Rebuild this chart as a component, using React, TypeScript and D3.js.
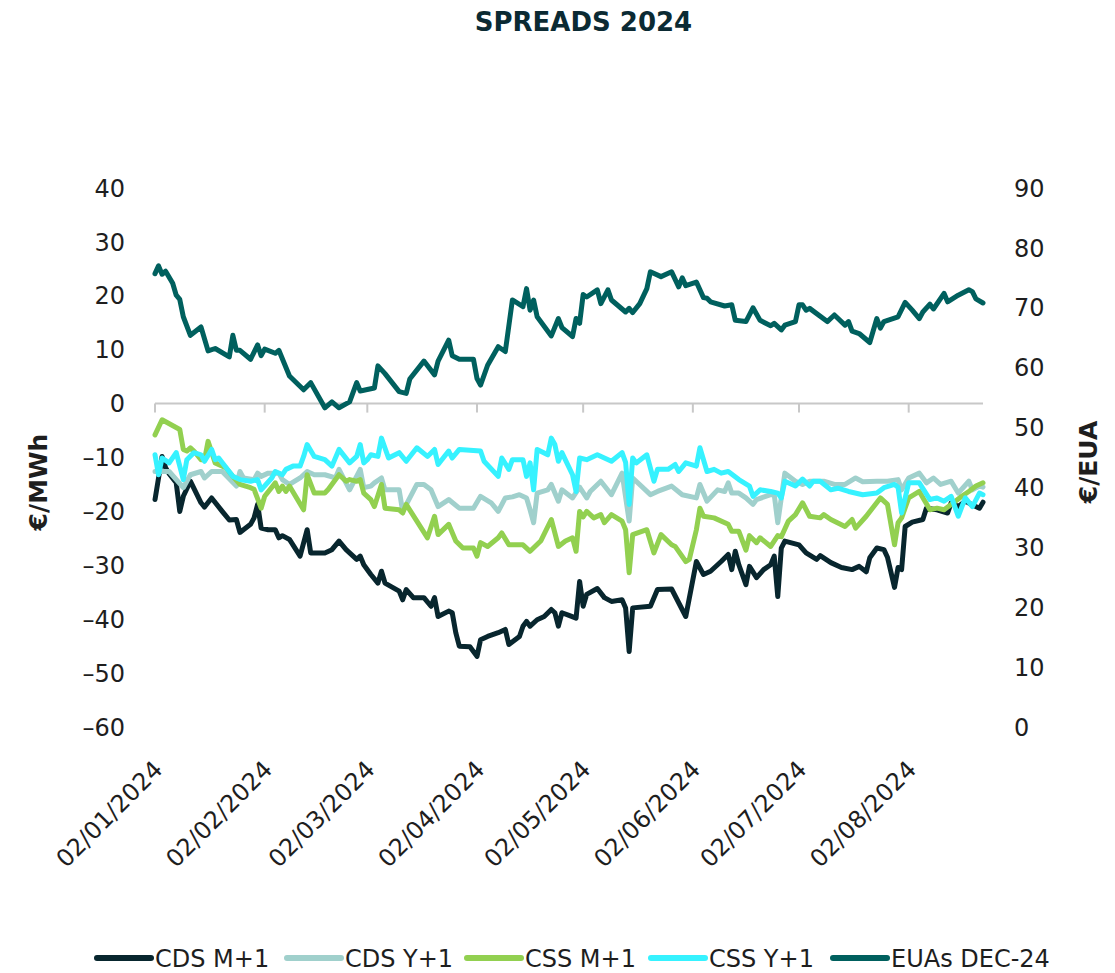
import React from "react";
import * as d3 from "d3";

const W = 1115;
const H = 973;
const FONT = "'DejaVu Sans', 'Open Sans', sans-serif";

// dates are MM-DD in 2024, values in €/MWh (spreads) and €/EUA (EUAs)
const cdsM1: [string, number][] = [
  ["01-02",-17.8],["01-04",-9.8],["01-05",-11.9],["01-06",-13.0],["01-08",-14.7],["01-09",-20.0],["01-10",-17.2],["01-12",-14.4],["01-15",-18.4],["01-16",-19.2],["01-18",-17.5],["01-21",-20.0],["01-23",-21.6],["01-25",-21.5],["01-26",-23.9],["01-29",-22.4],["01-30",-21.2],["01-31",-18.7],["02-01",-23.1],["02-03",-23.4],["02-05",-23.4],["02-06",-24.9],["02-07",-24.5],["02-09",-25.2],["02-12",-28.3],["02-14",-23.4],["02-15",-27.7],["02-19",-27.7],["02-21",-27.1],["02-23",-25.5],["02-25",-27.1],["02-28",-28.9],["02-29",-28.3],["03-01",-29.9],["03-03",-31.7],["03-05",-33.3],["03-06",-31.1],["03-07",-33.3],["03-11",-34.8],["03-12",-36.4],["03-13",-34.5],["03-15",-36.0],["03-18",-36.0],["03-20",-37.6],["03-21",-36.0],["03-22",-39.5],["03-25",-38.5],["03-26",-38.8],["03-27",-42.5],["03-28",-45.0],["03-31",-45.1],["04-02",-46.9],["04-03",-43.8],["04-05",-43.2],["04-08",-42.5],["04-10",-41.9],["04-11",-44.7],["04-14",-43.2],["04-15",-41.3],["04-16",-40.4],["04-17",-41.3],["04-19",-40.1],["04-21",-39.5],["04-23",-38.2],["04-24",-38.8],["04-25",-41.3],["04-26",-38.8],["04-28",-39.3],["04-30",-39.8],["05-01",-33.0],["05-02",-37.6],["05-03",-35.4],["05-06",-34.3],["05-08",-36.0],["05-10",-36.7],["05-13",-36.4],["05-14",-37.9],["05-15",-46.0],["05-16",-37.9],["05-21",-37.6],["05-23",-34.5],["05-27",-34.4],["05-31",-39.5],["06-03",-29.3],["06-05",-31.7],["06-07",-31.1],["06-10",-29.3],["06-12",-28.0],["06-13",-30.8],["06-14",-27.4],["06-15",-29.9],["06-17",-33.6],["06-18",-30.2],["06-20",-32.3],["06-22",-30.8],["06-24",-29.9],["06-25",-28.3],["06-26",-35.8],["06-27",-26.8],["06-28",-25.5],["07-02",-26.2],["07-04",-27.7],["07-07",-28.9],["07-08",-28.2],["07-11",-29.5],["07-14",-30.4],["07-17",-30.8],["07-19",-30.2],["07-21",-31.2],["07-22",-28.6],["07-24",-26.8],["07-26",-27.1],["07-27",-28.5],["07-29",-34.1],["07-30",-30.4],["07-31",-30.8],["08-01",-22.8],["08-03",-22.0],["08-06",-21.5],["08-07",-19.4],["08-10",-19.7],["08-13",-20.3],["08-14",-18.4],["08-16",-19.1],["08-18",-18.1],["08-20",-18.8],["08-22",-19.4],["08-23",-18.3],
];

const cdsY1: [string, number][] = [
  ["01-02",-12.6],["01-03",-12.6],["01-06",-12.6],["01-10",-15.6],["01-12",-13.2],["01-15",-12.6],["01-16",-13.8],["01-18",-12.6],["01-21",-12.6],["01-25",-15.3],["01-26",-12.6],["01-27",-13.8],["01-30",-14.1],["01-31",-12.9],["02-01",-13.5],["02-03",-12.9],["02-06",-12.9],["02-07",-14.1],["02-09",-15.0],["02-12",-13.8],["02-14",-12.6],["02-16",-13.2],["02-19",-13.2],["02-22",-13.8],["02-23",-12.2],["02-26",-16.0],["02-29",-12.2],["03-01",-15.6],["03-03",-15.3],["03-04",-14.7],["03-06",-13.8],["03-07",-16.0],["03-11",-16.0],["03-12",-20.0],["03-16",-15.0],["03-18",-15.0],["03-20",-16.0],["03-22",-19.1],["03-25",-17.8],["03-28",-19.4],["04-01",-19.4],["04-03",-17.2],["04-06",-18.4],["04-08",-20.0],["04-10",-17.5],["04-12",-17.3],["04-14",-16.9],["04-16",-17.5],["04-17",-19.7],["04-18",-22.1],["04-19",-16.6],["04-22",-16.0],["04-23",-15.0],["04-25",-18.1],["04-26",-16.0],["04-29",-17.5],["05-01",-15.5],["05-03",-17.5],["05-04",-16.3],["05-07",-14.4],["05-10",-16.9],["05-13",-12.9],["05-15",-21.8],["05-16",-13.8],["05-21",-16.9],["05-23",-16.3],["05-27",-15.3],["05-30",-16.9],["06-03",-17.5],["06-04",-15.0],["06-06",-18.1],["06-09",-16.0],["06-11",-16.3],["06-12",-14.7],["06-13",-16.6],["06-15",-16.6],["06-17",-17.5],["06-19",-18.7],["06-20",-17.8],["06-24",-16.9],["06-25",-16.9],["06-26",-22.1],["06-28",-12.9],["07-01",-14.4],["07-03",-15.0],["07-05",-14.4],["07-09",-14.4],["07-12",-15.0],["07-15",-15.0],["07-18",-13.8],["07-20",-14.5],["07-24",-14.4],["07-27",-14.4],["07-30",-14.1],["07-31",-16.0],["08-02",-13.8],["08-05",-12.9],["08-07",-14.7],["08-09",-13.8],["08-11",-15.0],["08-14",-14.4],["08-16",-16.6],["08-19",-14.4],["08-20",-16.0],["08-22",-15.3],["08-23",-15.5],
];

const cssM1: [string, number][] = [
  ["01-02",-5.8],["01-04",-3.0],["01-09",-4.8],["01-10",-8.5],["01-11",-8.8],["01-12",-8.2],["01-13",-8.8],["01-15",-10.4],["01-16",-10.4],["01-17",-7.0],["01-19",-11.0],["01-22",-11.9],["01-24",-13.5],["01-26",-15.0],["01-29",-15.6],["01-30",-15.9],["02-01",-19.4],["02-02",-17.2],["02-05",-14.7],["02-06",-16.3],["02-07",-15.3],["02-08",-16.3],["02-09",-15.3],["02-13",-19.7],["02-14",-13.2],["02-16",-16.6],["02-19",-16.6],["02-20",-15.9],["02-23",-13.2],["02-25",-14.4],["02-26",-14.1],["02-28",-14.4],["02-29",-14.1],["03-01",-16.6],["03-03",-17.8],["03-04",-19.1],["03-06",-15.0],["03-07",-19.4],["03-11",-19.7],["03-12",-20.3],["03-13",-18.7],["03-16",-21.8],["03-19",-24.9],["03-21",-20.9],["03-22",-24.3],["03-25",-22.4],["03-27",-25.5],["03-29",-26.8],["04-01",-26.8],["04-02",-28.3],["04-03",-25.8],["04-05",-26.5],["04-08",-24.9],["04-09",-24.0],["04-11",-26.2],["04-15",-26.2],["04-17",-27.4],["04-20",-25.5],["04-23",-21.5],["04-25",-26.5],["04-27",-25.5],["04-29",-24.9],["04-30",-27.4],["05-01",-20.0],["05-02",-21.0],["05-03",-20.0],["05-05",-21.2],["05-07",-20.6],["05-08",-22.1],["05-10",-20.6],["05-13",-21.8],["05-14",-23.4],["05-15",-31.4],["05-16",-24.3],["05-20",-23.4],["05-22",-27.7],["05-24",-24.3],["05-27",-26.2],["05-28",-26.5],["05-31",-29.3],["06-01",-28.9],["06-03",-23.4],["06-04",-19.4],["06-05",-20.9],["06-08",-21.2],["06-12",-22.4],["06-13",-23.7],["06-15",-23.7],["06-17",-27.2],["06-18",-24.5],["06-20",-25.8],["06-21",-24.9],["06-24",-26.5],["06-26",-24.5],["06-27",-24.7],["06-29",-21.8],["07-01",-20.6],["07-03",-18.4],["07-05",-20.9],["07-08",-21.2],["07-09",-20.6],["07-11",-21.5],["07-15",-22.8],["07-17",-21.5],["07-18",-23.1],["07-21",-20.9],["07-25",-17.5],["07-27",-18.7],["07-29",-26.2],["07-30",-22.1],["07-31",-21.2],["08-02",-17.5],["08-05",-16.3],["08-08",-19.7],["08-10",-19.4],["08-12",-19.7],["08-14",-18.7],["08-17",-17.2],["08-19",-16.3],["08-21",-15.3],["08-23",-14.7],
];

const cssY1: [string, number][] = [
  ["01-02",-9.5],["01-03",-13.2],["01-04",-10.1],["01-06",-11.0],["01-08",-9.1],["01-10",-14.1],["01-11",-10.4],["01-13",-9.1],["01-15",-9.5],["01-16",-10.7],["01-18",-8.5],["01-19",-10.4],["01-20",-10.1],["01-24",-13.5],["01-26",-14.1],["01-29",-14.4],["01-31",-14.1],["02-01",-16.0],["02-04",-13.8],["02-05",-12.6],["02-07",-13.2],["02-08",-12.2],["02-10",-11.6],["02-12",-11.6],["02-13",-9.8],["02-14",-7.6],["02-16",-9.8],["02-19",-10.4],["02-21",-11.6],["02-23",-8.5],["02-26",-11.0],["02-28",-9.8],["02-29",-7.6],["03-01",-11.0],["03-02",-10.4],["03-03",-9.5],["03-05",-9.8],["03-06",-6.4],["03-08",-10.1],["03-11",-9.1],["03-13",-10.7],["03-16",-8.2],["03-19",-9.8],["03-21",-8.5],["03-22",-11.3],["03-25",-8.8],["03-26",-10.1],["03-28",-8.5],["04-03",-8.8],["04-04",-10.7],["04-08",-13.5],["04-09",-10.1],["04-11",-12.2],["04-12",-10.4],["04-15",-10.4],["04-16",-13.5],["04-17",-11.0],["04-18",-16.0],["04-19",-8.5],["04-22",-9.5],["04-23",-6.4],["04-24",-7.6],["04-25",-10.7],["04-26",-9.1],["04-29",-13.2],["04-30",-16.3],["05-01",-10.1],["05-03",-10.4],["05-06",-9.5],["05-10",-10.7],["05-13",-9.1],["05-14",-10.9],["05-15",-18.7],["05-16",-10.1],["05-17",-11.0],["05-20",-9.5],["05-22",-14.4],["05-23",-12.2],["05-26",-12.2],["05-28",-11.3],["05-29",-12.6],["05-31",-11.0],["06-03",-11.6],["06-04",-8.2],["06-06",-12.6],["06-08",-12.2],["06-10",-12.9],["06-12",-12.6],["06-15",-14.1],["06-18",-15.3],["06-19",-17.2],["06-21",-16.0],["06-24",-16.3],["06-26",-16.6],["06-27",-17.5],["06-28",-14.4],["07-01",-15.3],["07-03",-14.0],["07-05",-15.3],["07-06",-14.4],["07-08",-14.4],["07-11",-16.0],["07-13",-15.7],["07-16",-16.3],["07-20",-16.9],["07-24",-16.6],["07-26",-15.6],["07-29",-15.0],["07-30",-15.5],["07-31",-20.3],["08-02",-14.7],["08-05",-14.7],["08-08",-17.8],["08-10",-17.5],["08-12",-18.1],["08-14",-17.2],["08-16",-20.9],["08-18",-17.5],["08-20",-19.1],["08-22",-16.6],["08-23",-16.9],
];

const euaDec24: [string, number][] = [
  ["01-02",75.7],["01-03",77.0],["01-04",75.6],["01-05",76.1],["01-07",74.1],["01-08",72.1],["01-09",71.4],["01-10",68.5],["01-12",65.4],["01-15",66.8],["01-17",62.8],["01-19",63.2],["01-23",61.8],["01-24",65.4],["01-25",62.9],["01-26",62.9],["01-29",61.4],["01-31",63.8],["02-01",62.0],["02-02",63.1],["02-05",62.4],["02-06",62.9],["02-09",58.6],["02-13",56.3],["02-15",57.5],["02-19",53.3],["02-21",54.3],["02-23",53.3],["02-26",54.3],["02-28",57.5],["02-29",56.1],["03-04",56.6],["03-05",60.3],["03-07",59.0],["03-11",56.0],["03-13",55.7],["03-14",58.1],["03-18",61.1],["03-21",58.8],["03-22",61.1],["03-25",64.6],["03-26",62.0],["03-28",61.4],["04-01",61.4],["04-02",58.2],["04-03",57.1],["04-05",60.4],["04-08",63.5],["04-10",62.7],["04-12",71.3],["04-15",70.2],["04-16",73.2],["04-17",69.6],["04-18",71.3],["04-19",68.5],["04-23",65.3],["04-25",68.2],["04-26",66.7],["04-29",65.2],["04-30",68.2],["05-01",67.4],["05-02",72.2],["05-03",71.8],["05-06",73.0],["05-07",70.7],["05-09",73.0],["05-10",71.3],["05-14",69.3],["05-15",69.9],["05-16",69.2],["05-18",70.7],["05-20",73.2],["05-21",76.0],["05-24",75.2],["05-27",76.0],["05-29",73.5],["05-30",75.0],["05-31",73.7],["06-03",74.3],["06-05",71.7],["06-06",71.6],["06-07",71.0],["06-11",70.3],["06-13",70.5],["06-14",67.9],["06-17",67.7],["06-19",70.0],["06-21",67.9],["06-24",67.0],["06-25",67.4],["06-27",66.3],["06-28",67.1],["07-01",67.7],["07-02",70.5],["07-03",70.5],["07-04",69.6],["07-05",69.9],["07-10",67.7],["07-12",68.8],["07-15",67.1],["07-16",67.7],["07-17",66.1],["07-19",65.7],["07-22",64.2],["07-24",68.2],["07-25",66.6],["07-26",67.7],["07-30",68.5],["08-01",70.9],["08-03",69.6],["08-05",68.2],["08-06",69.3],["08-08",70.6],["08-09",69.8],["08-12",72.4],["08-13",71.0],["08-16",72.1],["08-19",73.0],["08-20",72.7],["08-21",71.5],["08-23",70.8],
];

const seriesNames = ["CDS M+1", "CDS Y+1", "CSS M+1", "CSS Y+1", "EUAs DEC-24"];
const seriesColors = ["#08262e", "#a0d0cc", "#92d050", "#36f2ff", "#00605e"];
const leftTicks = [40, 30, 20, 10, 0, -10, -20, -30, -40, -50, -60];
const rightTicks = [90, 80, 70, 60, 50, 40, 30, 20, 10, 0];
const monthTicks = ["01-02", "02-02", "03-02", "04-02", "05-02", "06-02", "07-02", "08-02"];

const parse = d3.timeParse("%Y-%m-%d");
const toDate = (s: string) => parse("2024-" + s) as Date;
const fmt = d3.timeFormat("%d/%m/%Y");
const fmtNum = (v: number) => (v < 0 ? "–" + Math.abs(v) : String(v));

const x = d3.scaleTime().domain([toDate("01-02"), toDate("08-23")]).range([155, 983]);
const yL = d3.scaleLinear().domain([-60, 40]).range([727, 188]);
const yR = d3.scaleLinear().domain([0, 90]).range([727, 188]);

const lineL = d3.line<[string, number]>().x(d => x(toDate(d[0]))).y(d => yL(d[1]));
const lineR = d3.line<[string, number]>().x(d => x(toDate(d[0]))).y(d => yR(d[1]));

const legendX = [97, 287, 467, 651, 833];
const TXT = "#1e1e1e";

export default function App() {
  const left = [cdsM1, cdsY1, cssM1, cssY1];
  return (
    <svg width={W} height={H} style={{ position: "absolute", left: 0, top: 0, background: "#fff" }} fontFamily={FONT}>
      <text x={W / 2 + 26} y={31} textAnchor="middle" fontSize={26} fontWeight={700} fill="#0b2a33">SPREADS 2024</text>

      {/* axis labels */}
      {leftTicks.map(t => (
        <text key={"l" + t} x={125} y={yL(t)} dy="0.36em" textAnchor="end" fontSize={24} fill={TXT}>{fmtNum(t)}</text>
      ))}
      {rightTicks.map(t => (
        <text key={"r" + t} x={1014} y={yR(t)} dy="0.36em" textAnchor="start" fontSize={24} fill={TXT}>{t}</text>
      ))}
      <text transform="translate(47,482) rotate(-90)" textAnchor="middle" fontSize={25} fontWeight={700} fill={TXT}>€/MWh</text>
      <text transform="translate(1097,462) rotate(-90)" textAnchor="middle" fontSize={25} fontWeight={700} fill={TXT}>€/EUA</text>

      {/* zero axis with month ticks */}
      <line x1={x.range()[0]} x2={x.range()[1]} y1={yL(0)} y2={yL(0)} stroke="#c8c8c8" strokeWidth={2} />
      {monthTicks.map(m => (
        <line key={m} x1={x(toDate(m))} x2={x(toDate(m))} y1={yL(0)} y2={yL(0) + 9} stroke="#c8c8c8" strokeWidth={2} />
      ))}
      {monthTicks.map(m => {
        const px = x(toDate(m));
        return (
          <text key={"t" + m} transform={`translate(${px + 9},${771}) rotate(-45)`} textAnchor="end" fontSize={24} fill={TXT}>{fmt(toDate(m))}</text>
        );
      })}

      {/* series */}
      {left.map((s, i) => (
        <path key={seriesNames[i]} d={lineL(s) || ""} fill="none" stroke={seriesColors[i]} strokeWidth={5} strokeLinejoin="round" strokeLinecap="round" />
      ))}
      <path d={lineR(euaDec24) || ""} fill="none" stroke={seriesColors[4]} strokeWidth={5} strokeLinejoin="round" strokeLinecap="round" />

      {/* legend */}
      {seriesNames.map((n, i) => (
        <g key={"lg" + n}>
          <line x1={legendX[i]} x2={legendX[i] + 54} y1={958} y2={958} stroke={seriesColors[i]} strokeWidth={6} strokeLinecap="round" />
          <text x={legendX[i] + 58} y={958} dy="0.36em" fontSize={24} fill={TXT}>{n}</text>
        </g>
      ))}
    </svg>
  );
}
